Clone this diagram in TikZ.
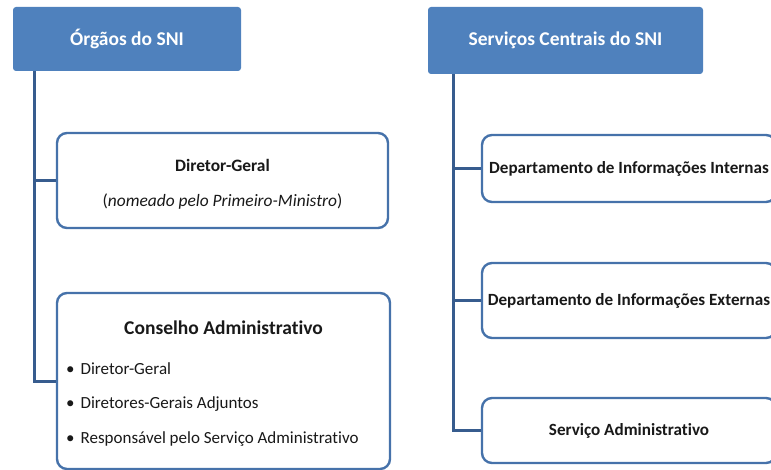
\documentclass[tikz,border=0pt]{standalone}
\usepackage{fontspec}
\setmainfont{Carlito}[RawFeature=-liga]
\usetikzlibrary{positioning}
\definecolor{snihead}{RGB}{79,129,189}
\definecolor{sniline}{RGB}{70,114,170}
\definecolor{snilink}{RGB}{55,92,142}
\definecolor{snitext}{RGB}{25,25,25}
\tikzset{
  head/.style={fill=snihead, rounded corners=3pt, text=white, inner sep=0pt,
    font=\fontsize{19.5}{22}\selectfont\bfseries},
  unit/.style={draw=sniline, line width=2.4pt, rounded corners=10pt, fill=white,
    inner sep=0pt, text=snitext},
  label/.style={text=snitext, inner sep=0pt, font=\fontsize{17.4}{20}\selectfont},
}

\begin{document}
\begin{tikzpicture}[x=1pt,y=-1pt,
    link/.style={draw=snilink, line width=3pt}]
    \clip (0,0) rectangle (771,470);
    \useasboundingbox (0,0) rectangle (771,470);
    % headers
    \node[head, minimum width=228pt, minimum height=64pt] (org) at (127,39) {Órgãos do SNI};
    \node[head, minimum width=275pt, minimum height=67pt] (svc) at (565.5,40.5) {Serviços Centrais do SNI};
    % left column
    \node[unit, minimum width=331pt, minimum height=95pt] (dg) at (222.5,180.5) {};
    \node[label, font=\fontsize{17.4}{20}\selectfont\bfseries] (dgtitle) at (222.5,165) {Diretor-Geral};
    \node[label] (dgnote) at (222.5,202) {(\textit{nomeado pelo Primeiro-Ministro})};
    \node[unit, minimum width=333pt, minimum height=176pt] (ca) at (223.5,381) {};
    \node[label, font=\fontsize{19.5}{22}\selectfont\bfseries] (catitle) at (223.5,328) {Conselho Administrativo};
    \node[label, anchor=west, align=left, font=\fontsize{17}{34.5}\selectfont] (calist) at (66,404.5)
      {\textbullet\hspace{6pt}Diretor-Geral\\\textbullet\hspace{6pt}Diretores-Gerais Adjuntos\\\textbullet\hspace{6pt}Responsável pelo Serviço Administrativo};
    % right column
    \node[unit, minimum width=294pt, minimum height=67pt, font=\fontsize{17.1}{20}\selectfont\bfseries] (dii) at (629,168.5) {Departamento de Informações Internas};
    \node[unit, minimum width=294pt, minimum height=75pt, font=\fontsize{17.1}{20}\selectfont\bfseries] (die) at (629,300.5) {Departamento de Informações Externas};
    \node[unit, minimum width=294pt, minimum height=65pt, font=\fontsize{17.1}{20}\selectfont\bfseries] (sa) at (629,430.5) {Serviço Administrativo};
    % links
    \draw[link] ([xshift=22pt]org.south west) |- (dg.west);
    \draw[link] ([xshift=22pt]org.south west) |- (ca.west);
    \draw[link] ([xshift=26pt]svc.south west) |- (dii.west);
    \draw[link] ([xshift=26pt]svc.south west) |- (die.west);
    \draw[link] ([xshift=26pt]svc.south west) |- (sa.west);
\end{tikzpicture}
\end{document}
